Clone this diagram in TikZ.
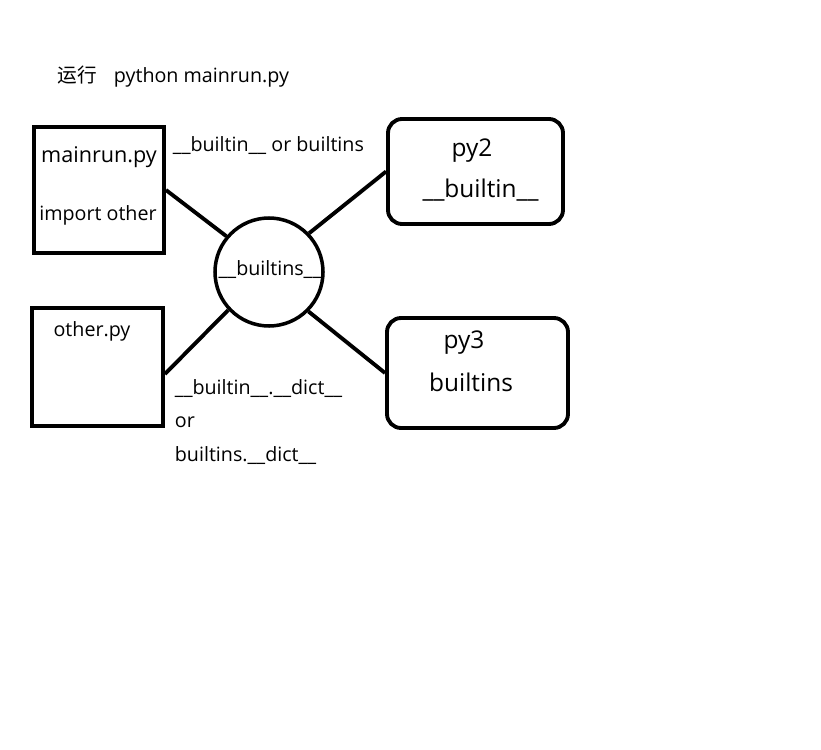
\documentclass[tikz,border=0pt]{standalone}
\usepackage{fontspec}
\setmainfont{Open Sans}
\newfontfamily\cjk{Noto Sans CJK SC}
\begin{document}
\begin{tikzpicture}[x=0.02cm, y=-0.02cm, line width=2.2pt,
	filebox/.style={draw, rectangle, inner sep=0pt},
	verbox/.style={draw, rectangle, rounded corners=8pt, inner sep=0pt},
	hubring/.style={draw, circle, line width=2pt, inner sep=0pt, minimum size=108*0.02cm},
	txt/.style={font=\fontsize{11.2}{13}\selectfont, inner sep=0pt},
	bigtxt/.style={font=\fontsize{13.9}{16}\selectfont, inner sep=0pt}]
	
	% Khung ảnh
	\useasboundingbox (0,0) rectangle (821,750);
	
	% Dòng lệnh chạy
	\node[txt, anchor=west] (run) at (56,77) {{\cjk 运行}\hspace{9.5pt}python mainrun.py};
	
	% Các hộp file
	\node[filebox, minimum width=130*0.02cm, minimum height=126*0.02cm] (mainrun) at (99,190) {};
	\node[filebox, minimum width=131*0.02cm, minimum height=118*0.02cm] (other) at (97.5,367) {};
	\node[txt, font=\fontsize{12.3}{14}\selectfont] (mainrunname) at (99,157) {mainrun.py};
	\node[txt] (importline) at (98,215) {import other};
	\node[txt] (othername) at (92,331) {other.py};
	
	% Vòng tròn ở giữa
	\node[hubring] (hub) at (269,272) {};
	\node[txt] (hubname) at (270,269.5) {\_\_builtins\_\_};
	
	% Các hộp phiên bản
	\node[verbox, minimum width=175*0.02cm, minimum height=105*0.02cm] (py2) at (475.5,171.5) {};
	\node[verbox, minimum width=181*0.02cm, minimum height=110*0.02cm] (py3) at (477.5,373) {};
	\node[bigtxt] (py2name) at (472,151) {py2};
	\node[bigtxt] (py2mod) at (480.5,190) {\_\_builtin\_\_};
	\node[bigtxt] (py3name) at (464,343) {py3};
	\node[bigtxt] (py3mod) at (471,382) {builtins};
	
	% Chữ ghi chú
	\node[txt, anchor=west] (topnote) at (171,146) {\_\_builtin\_\_ or builtins};
	\node[txt, anchor=west] (dictone) at (173,389) {\_\_builtin\_\_.\_\_dict\_\_};
	\node[txt, anchor=west] (dictor) at (173,422) {or};
	\node[txt, anchor=west] (dicttwo) at (173,456) {builtins.\_\_dict\_\_};
	
	% Các đường nối
	\draw (mainrun.east) -- (hub.140);
	\draw (hub.44) -- (py2.west);
	\draw (other.east) ++(0,7) -- (hub.223);
	\draw (hub.-45) -- (py3.west);
	
\end{tikzpicture}
\end{document}
